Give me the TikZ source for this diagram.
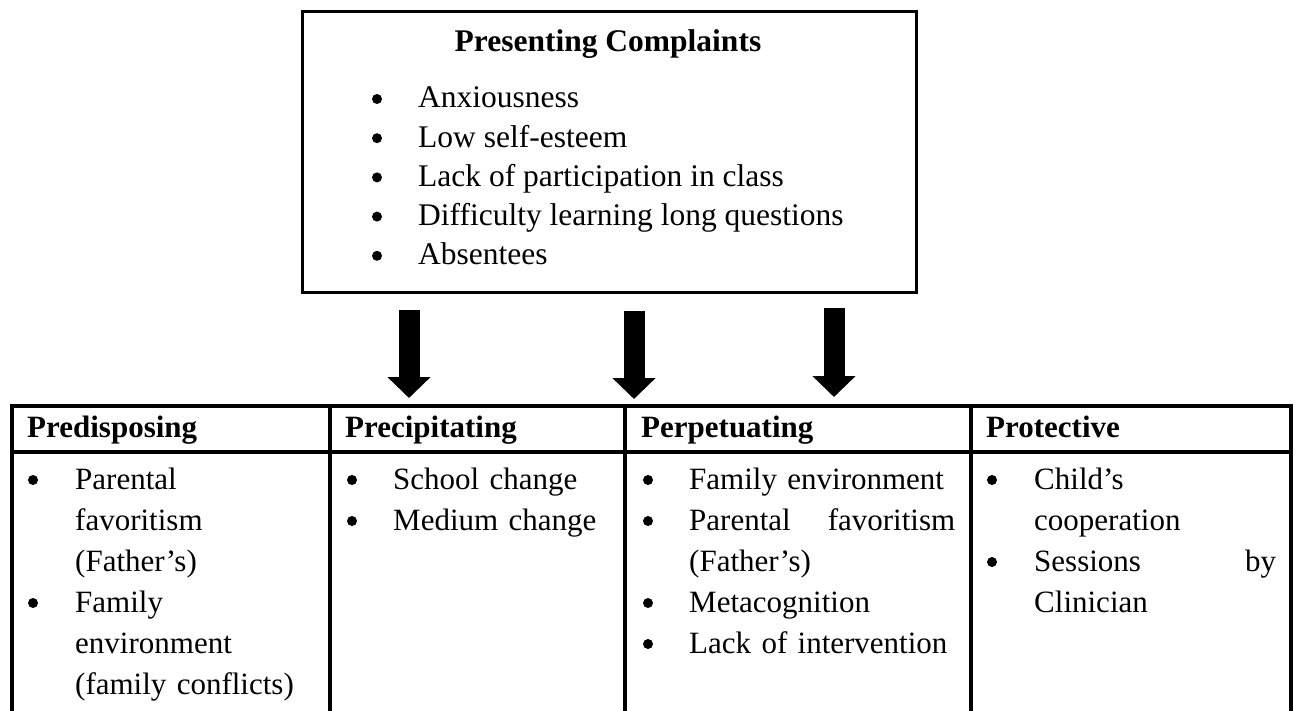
\documentclass[tikz,border=0pt]{standalone}
\usepackage{fontspec}
\setmainfont{Liberation Serif}
\usetikzlibrary{arrows.meta}
\begin{document}
\begin{tikzpicture}[x=1pt,y=-1pt,
  boxline/.style={line width=3pt},
  tabline/.style={line width=4pt},
  bigarrow/.style={line width=21pt,-{Triangle[length=21pt,width=42pt]}},
  dot/.style={circle,fill=black,inner sep=0pt,minimum size=10pt},
  topfont/.style={font=\fontsize{31.5}{39}\selectfont},
  topitem/.style={anchor=base west,inner sep=0pt,topfont},
  cellfont/.style={font=\fontsize{31}{41}\selectfont},
  cellitem/.style={anchor=base west,inner sep=0pt,cellfont,align=left},
  head/.style={anchor=base west,inner sep=0pt,font=\fontsize{31}{41}\selectfont\bfseries},
]
\useasboundingbox (0,0) rectangle (1298,711);

% ---------- Presenting complaints box ----------
\node[draw,boxline,anchor=north west,inner sep=0pt,minimum width=614pt,minimum height=280.5pt] (pc) at (301,10.5) {};
\node[anchor=base,inner sep=0pt,font=\fontsize{31.5}{39}\selectfont\bfseries] (pctitle) at (608,52) {Presenting Complaints};
\foreach \t [count=\i] in {Anxiousness,Low self-esteem,Lack of participation in class,Difficulty learning long questions,Absentees}{
  \node[dot] (tb\i) at (377,{108+(\i-1)*39.2-9}) {};
  \node[topitem] (tt\i) at (418,{108+(\i-1)*39.2}) {\t};
}

% ---------- arrows ----------
\coordinate (a1s) at (409,310);
\coordinate (a1e) at (409,398);
\coordinate (a2s) at (634,311);
\coordinate (a2e) at (634,399);
\coordinate (a3s) at (834,308);
\coordinate (a3e) at (834,397);
\draw[bigarrow] (a1s) -- (a1e);
\draw[bigarrow] (a2s) -- (a2e);
\draw[bigarrow] (a3s) -- (a3e);

% ---------- table grid ----------
\coordinate (tl) at (12,406);
\coordinate (tr) at (1291,406);
\coordinate (hl) at (12,452);
\coordinate (hr) at (1291,452);
\draw[tabline] ([xshift=-2pt]tl) -- ([xshift=2pt]tr);
\draw[tabline] (hl) -- (hr);
\foreach \x/\n in {12/v0,330/v1,625/v2,971/v3,1291/v4}{
  \coordinate (\n t) at (\x,404);
  \coordinate (\n b) at (\x,711);
  \draw[tabline] (\n t) -- (\n b);
}

% ---------- headers ----------
\node[head] (h1) at (27,437) {Predisposing};
\node[head] (h2) at (345,437) {Precipitating};
\node[head] (h3) at (641,437) {Perpetuating};
\node[head] (h4) at (986,437) {Protective};

% ---------- column 1 ----------
\node[dot] (b11) at (33,480) {};
\node[cellitem,text width=250pt] (c11) at (75,489) {Parental\\favoritism\\(Father’s)};
\node[dot] (b12) at (33,603) {};
\node[cellitem,text width=250pt] (c12) at (75,612) {Family\\environment\\(family conflicts)};

% ---------- column 2 ----------
\node[dot] (b21) at (352,480) {};
\node[cellitem,text width=225pt] (c21) at (393,489) {School change};
\node[dot] (b22) at (352,521) {};
\node[cellitem,text width=225pt] (c22) at (393,530) {Medium change};

% ---------- column 3 ----------
\node[dot] (b31) at (648,480) {};
\node[cellitem,text width=266pt] (c31) at (689,489) {Family environment};
\node[dot] (b32) at (648,521) {};
\node[cellitem,text width=266pt] (c32) at (689,530) {Parental\hfill favoritism\\(Father’s)};
\node[dot] (b33) at (648,603) {};
\node[cellitem,text width=266pt] (c33) at (689,612) {Metacognition};
\node[dot] (b34) at (648,644) {};
\node[cellitem,text width=266pt] (c34) at (689,653) {Lack of intervention};

% ---------- column 4 ----------
\node[dot] (b41) at (992,480) {};
\node[cellitem,text width=242pt] (c41) at (1034,489) {Child’s\\cooperation};
\node[dot] (b42) at (992,562) {};
\node[cellitem,text width=242pt] (c42) at (1034,571) {Sessions\hfill by\\Clinician};
\end{tikzpicture}
\end{document}
